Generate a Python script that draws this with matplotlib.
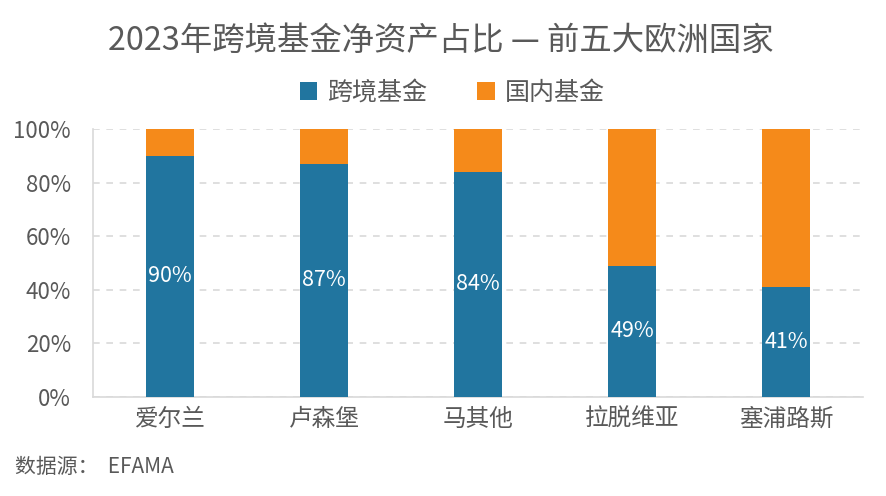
import matplotlib.pyplot as plt
import numpy as np

plt.rcParams['font.family'] = ['Noto Sans CJK SC', 'DejaVu Sans']

countries = ['爱尔兰', '卢森堡', '马其他', '拉脱维亚', '塞浦路斯']
cross_border = [90, 87, 84, 49, 41]
domestic = [10, 13, 16, 51, 59]

blue = '#21759F'
orange = '#F58A1A'
grey = '#595959'

fig = plt.figure(figsize=(8.87, 4.96), dpi=100)
ax = fig.add_axes([0.105, 0.2, 0.868, 0.54])

x = np.arange(len(countries))
ax.bar(x, cross_border, width=0.31, color=blue, label='跨境基金', zorder=3)
ax.bar(x, domestic, width=0.31, bottom=cross_border, color=orange, label='国内基金', zorder=3)

for i, v in enumerate(cross_border):
    ax.text(i, v / 2, f'{v}%', ha='center', va='center', color='white', fontsize=15.5, zorder=4)

ax.set_xlim(-0.5, 4.5)
ax.set_ylim(0, 100)
ax.set_yticks(range(0, 101, 20))
ax.set_yticklabels([f'{t}%' for t in range(0, 101, 20)])
ax.set_xticks(x)
ax.set_xticklabels(countries)
ax.tick_params(axis='y', length=0, labelsize=16, colors=grey, pad=16)
ax.tick_params(axis='x', length=0, labelsize=17, colors=grey, pad=8)
ax.yaxis.grid(True, color='#D9D9D9', linestyle=(0, (4, 4)), linewidth=1.2, zorder=0)
for s in ['top', 'right']:
    ax.spines[s].set_visible(False)
ax.spines['left'].set_color('#D9D9D9')
ax.spines['bottom'].set_color('#D9D9D9')
ax.spines['left'].set_linewidth(1.2)
ax.spines['bottom'].set_linewidth(1.2)

fig.text(0.497, 0.918, '2023年跨境基金净资产占比 — 前五大欧洲国家', ha='center', va='center',
         fontsize=23.3, color=grey)
fig.legend(loc='center', bbox_to_anchor=(0.51, 0.813), ncol=2, frameon=False, fontsize=18,
           handlelength=0.7, handleheight=0.7, handletextpad=0.4, columnspacing=2.0,
           labelcolor=grey)
fig.text(0.017, 0.058, '数据源：  EFAMA', ha='left', va='center', fontsize=15, color=grey)

fig.savefig('out.png', dpi=100)
